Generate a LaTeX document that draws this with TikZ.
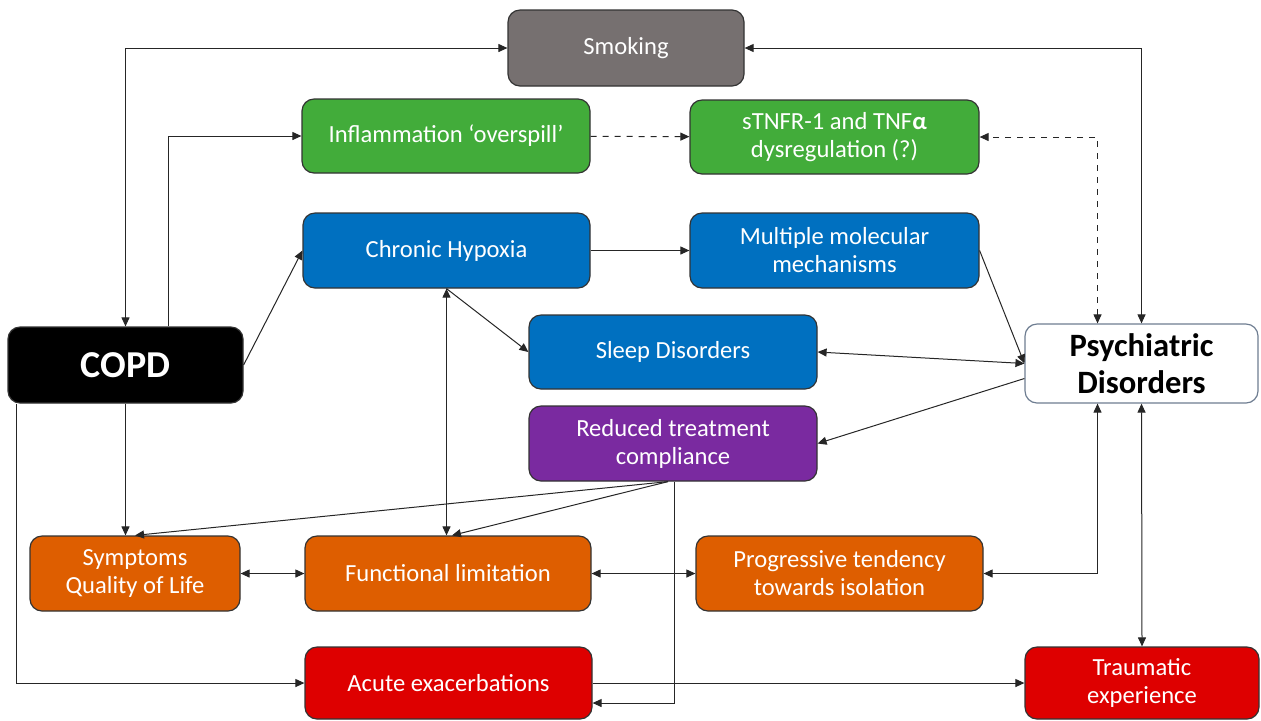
\documentclass[tikz,border=0pt]{standalone}
\usepackage{fontspec}
\setmainfont{Carlito}
\usetikzlibrary{arrows.meta,calc}
\definecolor{smokegray}{RGB}{118,112,112}
\definecolor{inflgreen}{RGB}{66,172,58}
\definecolor{hypblue}{RGB}{0,112,192}
\definecolor{compurple}{RGB}{122,42,160}
\definecolor{funcorange}{RGB}{222,94,0}
\definecolor{exacred}{RGB}{222,0,0}
\definecolor{psyborder}{RGB}{110,125,145}

\begin{document}
\begin{tikzpicture}[x=0.5pt,y=-0.5pt,>={Triangle[length=4.5pt,width=4pt]},
  box/.style={draw=black!80,line width=0.6pt,rounded corners=6pt,inner sep=0pt,
    align=center,text=white,font=\fontsize{12.3}{14}\selectfont},
  link/.style={black!85,line width=0.5pt}]
\useasboundingbox (0,0) rectangle (1261,720);
\node [box,fill=smokegray,minimum width=118pt,minimum height=38pt] (smoke) at (626,48) {Smoking};
\node [box,fill=inflgreen,minimum width=144pt,minimum height=37pt] (inflam) at (446,136) {Inflammation `overspill'};
\node [box,fill=inflgreen,minimum width=144.5pt,minimum height=37pt] (tnf) at (834.5,137) {sTNFR-1 and TNF{\bfseries α}\\dysregulation (?)};
\node [box,fill=hypblue,minimum width=143.5pt,minimum height=37.5pt] (hypox) at (446.5,250.5) {Chronic Hypoxia};
\node [box,fill=hypblue,minimum width=144.5pt,minimum height=37.5pt] (molec) at (834.5,250.5) {Multiple molecular\\mechanisms};
\node [box,fill=black,minimum width=117.5pt,minimum height=38pt,font=\fontsize{19}{22}\selectfont\bfseries] (copd) at (125.5,365) {COPD};
\node [box,fill=hypblue,minimum width=144pt,minimum height=37pt] (sleep) at (673,352) {Sleep Disorders};
\node [box,fill=white,draw=psyborder,text=black,minimum width=116.5pt,minimum height=39.5pt,font=\fontsize{16.3}{18.5}\selectfont\bfseries] (psych) at (1141.5,363.5) {Psychiatric\\Disorders};
\node [box,fill=compurple,minimum width=144pt,minimum height=37.5pt] (comply) at (673,443.5) {Reduced treatment\\compliance};
\node [box,fill=funcorange,minimum width=105pt,minimum height=37.5pt] (sympt) at (135,573.5) {Symptoms\\Quality of Life};
\node [box,fill=funcorange,minimum width=143pt,minimum height=37.5pt] (funct) at (448,573.5) {Functional limitation};
\node [box,fill=funcorange,minimum width=143.5pt,minimum height=37.5pt] (isol) at (839.5,573.5) {Progressive tendency\\towards isolation};
\node [box,fill=exacred,minimum width=143.5pt,minimum height=36pt] (acute) at (448.5,683) {Acute exacerbations};
\node [box,fill=exacred,minimum width=117pt,minimum height=36pt] (trauma) at (1142,683) {Traumatic\\experience};
\coordinate (fork) at ($(comply.south)+(-5,0)$);
\draw [link,<->] (copd.north) |- (smoke.west);
\draw [link,->] ($(copd.north)+(43,0)$) |- (inflam.west);
\draw [link,->] (copd.east) -- (hypox.west);
\draw [link,->] (copd.south) -- (copd.south |- sympt.north);
\draw [link,->] ($(copd.south west)+(9,0)$) |- (acute.west);
\draw [link,->] (hypox) -- (molec);
\draw [link,<->] (hypox.south) -- (hypox.south |- funct.north);
\draw [link,->] (hypox.south) -- (sleep.west);
\draw [link,dashed,->] (inflam) -- (tnf);
\draw [link,dashed,<->] ($(psych.north)+(-44,0)$) |- (tnf.east);
\draw [link,<->] (psych.north) |- (smoke.east);
\draw [link,->] (molec.east) -- (psych.west);
\draw [link,<->] (sleep.east) -- (psych.west);
\draw [link,->] ($(psych.west)+(0,15)$) -- (comply.east);
\draw [link,->] (fork) -- (sympt.north);
\draw [link,->] (fork) -- ($(funct.north)+(4,0)$);
\draw [link,->] ($(comply.south)+(1,0)$) |- ($(acute.east)+(0,20)$);
\draw [link,->] (acute.east) -- (trauma.west);
\draw [link,<->] (funct) -- (isol);
\draw [link,<->] (sympt) -- (funct);
\draw [link,<->] ($(psych.south)+(-44,0)$) |- (isol.east);
\draw [link,<->] (psych.south) -- (trauma.north);
\end{tikzpicture}
\end{document}
